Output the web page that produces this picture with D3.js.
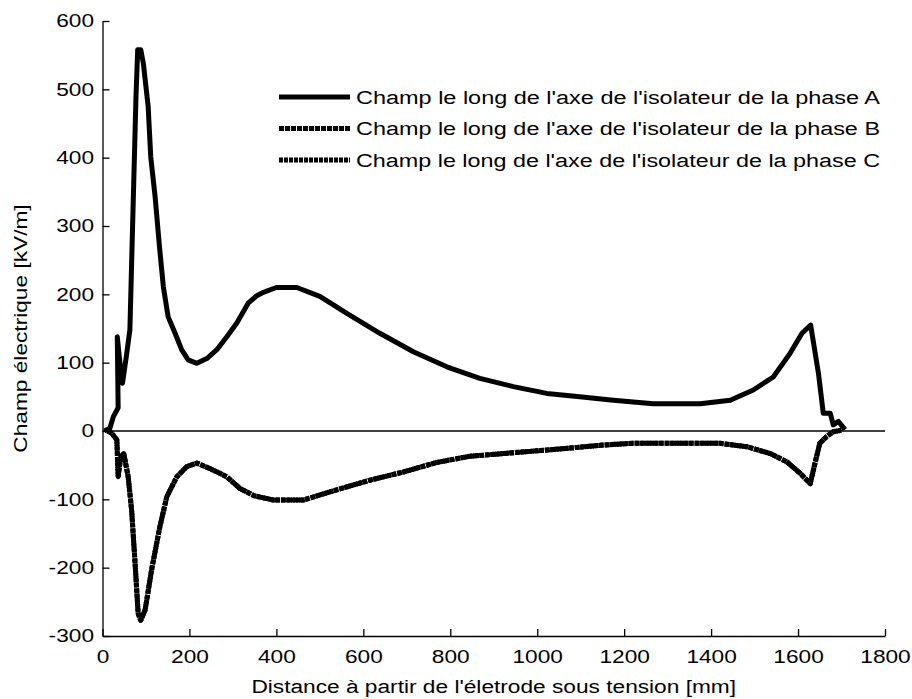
<!DOCTYPE html>
<html>
<head>
<meta charset="utf-8">
<script src="https://cdn.jsdelivr.net/npm/d3@7"></script>
<style>
body { margin: 0; background: #fff; }
text { font-family: "Liberation Sans", Arial, sans-serif; fill: #000; }
</style>
</head>
<body>
<script>
// Champ le long de l'axe - phase A : [distance mm, champ kV/m]
var phaseA = [
[4, 0], [17, 4], [25, 21], [36, 34], [34, 138], [40, 100], [46, 70], [55, 110], [63, 148],
[71, 343], [77, 489], [81, 558], [88, 558], [94, 538], [105, 475], [111, 401],
[121, 343], [131, 270], [140, 211], [151, 167], [167, 143], [182, 119], [197, 104],
[217, 99], [240, 106], [263, 119], [286, 138], [309, 158], [335, 187], [355, 198],
[370, 203], [400, 210], [447, 210], [500, 197], [562, 172], [638, 143], [715, 116],
[792, 94], [868, 77], [945, 65], [1022, 55], [1098, 50], [1175, 45], [1267, 40],
[1375, 40], [1444, 45], [1497, 60], [1543, 79], [1582, 114], [1609, 143], [1629, 155],
[1647, 84], [1658, 26], [1674, 26], [1681, 9], [1693, 14], [1708, 2]
];
// phases B et C (courbes superposees)
var phaseB = [
[12, 0], [21, -3], [33, -13], [36, -67], [42, -38], [49, -33], [59, -67], [67, -116],
[75, -194], [82, -267], [88, -277], [98, -262], [113, -203], [132, -140], [148, -96],
[171, -67], [194, -52], [217, -47], [247, -55], [270, -62], [286, -67], [316, -84],
[350, -95], [393, -101], [462, -101], [539, -86], [615, -72], [692, -60], [769, -46],
[845, -37], [922, -33], [999, -29], [1075, -25], [1152, -20.5], [1221, -18],
[1305, -18], [1420, -18], [1482, -23], [1536, -33], [1574, -45], [1605, -62],
[1628, -77], [1639, -47], [1650, -18], [1666, -8], [1681, -1], [1700, 1]
];
var phaseC = phaseB.map(function(d) { return [d[0], d[1]]; });

var xTicks = [0, 200, 400, 600, 800, 1000, 1200, 1400, 1600, 1800];
var yTicks = [-300, -200, -100, 0, 100, 200, 300, 400, 500, 600];
var legendLabels = [
"Champ le long de l'axe de l'isolateur de la phase A",
"Champ le long de l'axe de l'isolateur de la phase B",
"Champ le long de l'axe de l'isolateur de la phase C"
];

var larg = 912, haut = 699;
var gauche = 102.5, droite = 885, haut0 = 21, bas = 636;
var etire = 1.26; // texte un peu elargi comme sur l'original

var svg = d3.select("body").append("svg")
	.attr("width", larg)
	.attr("height", haut);

var xScale = d3.scaleLinear().domain([0, 1800]).range([gauche, droite]);
var yScale = d3.scaleLinear().domain([-300, 600]).range([bas, haut0]);

var fmt = function(d) { return String(d); };

// axes
var xAxis = d3.axisBottom(xScale).tickValues(xTicks).tickFormat(fmt)
	.tickSizeInner(-7).tickSizeOuter(0).tickPadding(14);
var yAxis = d3.axisLeft(yScale).tickValues(yTicks).tickFormat(fmt)
	.tickSizeInner(-7).tickSizeOuter(0).tickPadding(8.5 / etire);

var gx = svg.append("g").attr("transform", "translate(0," + bas + ")").call(xAxis);
var gy = svg.append("g").attr("transform", "translate(" + gauche + ",0)").call(yAxis);
[gx, gy].forEach(function(g) {
	g.selectAll("path, line").attr("stroke", "#000").attr("stroke-width", 1.3);
	g.selectAll("text").attr("font-size", "18px").attr("fill", "#000")
		.attr("font-family", "Liberation Sans, Arial, sans-serif")
		.attr("transform", "scale(" + etire + ",1)");
});

// ligne du zero
svg.append("line")
	.attr("x1", xScale(0)).attr("x2", xScale(1800))
	.attr("y1", yScale(0)).attr("y2", yScale(0))
	.attr("stroke", "#000").attr("stroke-width", 1.5);

var line = d3.line()
	.x(function(d) { return xScale(d[0]); })
	.y(function(d) { return yScale(d[1]); });

var styles = [
	{ dash: null, w: 5 },
	{ dash: "5,1", w: 5 },
	{ dash: "4,1", w: 5 }
];

[phaseA, phaseB, phaseC].forEach(function(serie, i) {
	svg.append("path")
		.datum(serie)
		.attr("d", line)
		.attr("fill", "none")
		.attr("stroke", "#000")
		.attr("stroke-width", styles[i].w)
		.attr("stroke-linejoin", "round")
		.attr("stroke-dasharray", styles[i].dash);
});

// legende
legendLabels.forEach(function(lbl, i) {
	var y = 97 + i * 31.5;
	svg.append("line")
		.attr("x1", 279).attr("x2", 350)
		.attr("y1", y).attr("y2", y)
		.attr("stroke", "#000")
		.attr("stroke-width", 5)
		.attr("stroke-dasharray", styles[i].dash);
	svg.append("text")
		.attr("x", 356).attr("y", y + 6.5)
		.attr("font-size", "18px")
		.attr("textLength", 524)
		.attr("lengthAdjust", "spacingAndGlyphs")
		.text(lbl);
});

// titres des axes
function titre(t) {
	var w = t.node().getComputedTextLength();
	t.attr("textLength", w * etire).attr("lengthAdjust", "spacingAndGlyphs");
}

svg.append("text")
	.attr("x", (gauche + droite) / 2)
	.attr("y", 693)
	.attr("text-anchor", "middle")
	.attr("font-size", "18px")
	.text("Distance à partir de l'életrode sous tension [mm]")
	.call(titre);

svg.append("text")
	.attr("transform", "translate(27," + ((haut0 + bas) / 2) + ") rotate(-90)")
	.attr("text-anchor", "middle")
	.attr("font-size", "18px")
	.text("Champ électrique [kV/m]")
	.call(titre);
</script>
</body>
</html>
